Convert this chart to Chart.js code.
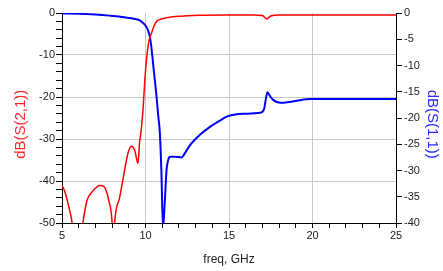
<!DOCTYPE html>
<html>
<head>
<meta charset="utf-8">
<script src="https://cdn.jsdelivr.net/npm/chart.js@4/dist/chart.umd.min.js"></script>
<style>
  html, body { margin: 0; padding: 0; background: #fff; }
  #wrap { width: 443px; height: 271px; }
</style>
</head>
<body>
<div id="wrap"><canvas id="sChart" width="443" height="271"></canvas></div>
<script>
// S21 (left axis, dB)
var s21Freq = [5, 5.2, 5.4, 5.6, 5.9, 6.25, 6.5, 6.8, 7.1, 7.3, 7.5, 7.8, 8.0, 8.07, 8.15, 8.46, 8.75, 8.95, 9.15, 9.35, 9.55, 9.65, 9.71, 9.85, 9.96, 10.05, 10.15, 10.25, 10.36, 10.5, 10.66, 10.9, 11.2, 11.46, 12.0, 12.46, 13.5, 15, 16.5, 17.0, 17.26, 17.5, 18, 20, 22, 25];
var s21dB   = [-41, -42.9, -46, -49.8, -60, -50, -44.6, -42.6, -41.4, -41.1, -41.3, -44.6, -50, -57, -50, -43.8, -37.4, -33.4, -31.7, -32.6, -35.8, -30.5, -29, -23, -16, -11.5, -8, -6, -4.8, -3.2, -2, -1.5, -1.2, -1, -0.8, -0.65, -0.55, -0.5, -0.5, -0.6, -1.4, -0.7, -0.5, -0.5, -0.5, -0.5];

// S11 (right axis, dB)
var s11Freq = [5, 6, 7, 7.85, 8.5, 9.05, 9.4, 9.65, 9.85, 10.05, 10.15, 10.26, 10.35, 10.45, 10.55, 10.66, 10.76, 10.86, 10.95, 11.05, 11.16, 11.26, 11.36, 11.46, 11.76, 12.16, 12.4, 12.66, 13.26, 13.86, 14.46, 14.86, 15.86, 16.86, 17.1, 17.2, 17.3, 17.45, 17.66, 18.06, 18.5, 19.07, 19.87, 22, 25];
var s11dB   = [-0.1, -0.15, -0.3, -0.5, -0.7, -0.96, -1.15, -1.4, -1.9, -2.6, -3.3, -4.5, -6.5, -9.5, -12.5, -15.9, -19.5, -22.9, -30, -41, -35.7, -29.9, -28, -27.4, -27.4, -27.5, -26.5, -25.2, -23.2, -21.7, -20.5, -19.75, -19.2, -19.0, -18.3, -16.5, -15.1, -15.8, -16.6, -17.1, -17.0, -16.7, -16.4, -16.4, -16.4];

function toPoints(xs, ys){
    var pts = [];
    for (var i = 0; i < xs.length; i++) {
        pts.push({x: xs[i], y: ys[i]});
    }
    return pts;
}

const tickFont = { family: 'Liberation Sans, Arial, sans-serif', size: 11 };

const config = {
    type: 'line',
    data: {
        datasets: [{
            label: 'dB(S(2,1))',
            data: toPoints(s21Freq, s21dB),
            borderColor: 'rgb(255, 0, 0)',
            borderWidth: 1.5,
            pointRadius: 0,
            cubicInterpolationMode: 'monotone',
            yAxisID: 'y'
        }, {
            label: 'dB(S(1,1))',
            data: toPoints(s11Freq, s11dB),
            borderColor: 'rgb(0, 0, 255)',
            borderWidth: 2,
            pointRadius: 0,
            cubicInterpolationMode: 'monotone',
            yAxisID: 'y1'
        }]
    },
    options: {
        responsive: false,
        animation: false,
        layout: { padding: { top: 13, left: 0, right: 0, bottom: 0 } },
        plugins: {
            legend: { display: false },
            tooltip: { enabled: false }
        },
        scales: {
            x: {
                type: 'linear',
                min: 5,
                max: 25,
                afterFit: function(s){ s.height = 48; },
                ticks: {
                    stepSize: 1,
                    autoSkip: false,
                    maxRotation: 0,
                    padding: 1,
                    color: '#222',
                    font: tickFont,
                    callback: function(v){ return v % 5 === 0 ? v : ''; }
                },
                grid: {
                    color: function(c){
                        var v = c.tick ? c.tick.value : null;
                        return (v === 10 || v === 15 || v === 20) ? '#c8c8c8' : 'rgba(0,0,0,0)';
                    },
                    tickColor: '#000',
                    tickLength: 5
                },
                border: { color: '#000', width: 1 },
                title: {
                    display: true,
                    text: 'freq, GHz',
                    color: '#222',
                    font: { family: 'Liberation Sans, Arial, sans-serif', size: 12 },
                    padding: { top: 0, bottom: 4 }
                }
            },
            y: {
                position: 'left',
                min: -50,
                max: 0,
                afterFit: function(s){ s.width = 62; },
                ticks: {
                    stepSize: 2,
                    autoSkip: false,
                    padding: 1,
                    color: '#222',
                    font: tickFont,
                    callback: function(v){ return v % 10 === 0 ? v : ''; }
                },
                grid: {
                    color: function(c){
                        var v = c.tick ? c.tick.value : null;
                        return (v < 0 && v > -50 && v % 10 === 0) ? '#c8c8c8' : 'rgba(0,0,0,0)';
                    },
                    tickColor: '#000',
                    tickLength: 6
                },
                border: { color: '#000', width: 1 },
                title: {
                    display: true,
                    // trailing spaces push the rotated text a little lower, as in the original
                    text: 'dB(S(2,1))   ',
                    color: 'rgb(255, 40, 40)',
                    font: { family: 'Liberation Sans, Arial, sans-serif', size: 15 },
                    padding: { top: 12, bottom: 0 }
                }
            },
            y1: {
                position: 'right',
                min: -40,
                max: 0,
                afterFit: function(s){ s.width = 47; },
                ticks: {
                    stepSize: 5,
                    autoSkip: false,
                    padding: 2,
                    color: '#222',
                    font: tickFont
                },
                grid: {
                    drawOnChartArea: false,
                    tickColor: '#000',
                    tickLength: 6
                },
                border: { color: '#000', width: 1 },
                title: {
                    display: true,
                    text: '   dB(S(1,1))',
                    color: 'rgb(40, 40, 255)',
                    font: { family: 'Liberation Sans, Arial, sans-serif', size: 15 },
                    padding: { top: 2, bottom: 0 }
                }
            }
        }
    }
};

const sChart = new Chart(document.getElementById('sChart'), config);
</script>
</body>
</html>
